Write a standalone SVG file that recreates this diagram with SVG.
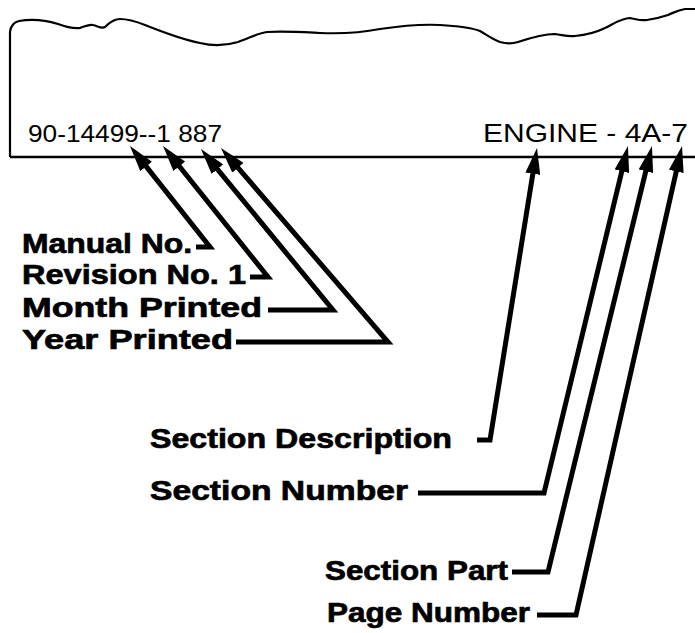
<svg xmlns="http://www.w3.org/2000/svg" width="695" height="633" viewBox="0 0 695 633">
  <defs>
    <marker id="ah" viewBox="0 0 26 15" refX="16" refY="7.5" markerWidth="26" markerHeight="15" markerUnits="userSpaceOnUse" orient="auto-start-reverse">
      <path d="M0,0 L26,7.5 L0,15 Z" fill="#000"/>
    </marker>
    <style>
      .edge { fill: none; stroke: #000; stroke-width: 2.2; stroke-linejoin: round; }
      .conn { fill: none; stroke: #000; stroke-width: 5; stroke-linejoin: miter; marker-start: url(#ah); }
      .lbl { font-family: "Liberation Sans", Arial, sans-serif; font-weight: bold; font-size: 28px; fill: #000; stroke: #000; stroke-width: 0.7; }
      .code { font-family: "Liberation Sans", Arial, sans-serif; font-size: 23px; fill: #000; }
    </style>
  </defs>
  <rect width="695" height="633" fill="#fff"/>

  <g id="page">
    <path class="edge" d="M10,157 L10,32 Q11,23 19,21 C30,19 45,20 58,24 C66,27 72,29 80,28 C86,26 89,24 93,25 C98,26 101,29 105,27 C110,22 114,19 120,19 C128,19 135,21 145,25 C160,31 180,39 200,43 C212,46 225,46 238,42 C250,38 258,33 267,32 C285,31 300,32 320,33 C345,34 360,33 380,29 C400,26 420,24 440,25 C460,26 472,28 480,31 C487,35 492,39 500,42 C507,44 512,44 518,42 C530,38 545,34 555,34 C563,35 568,37 575,36 C585,35 595,33 605,28 C615,23 622,18 630,18 C636,19 640,21 647,20 C655,19 662,17 668,15 C675,12 678,10 685,9 L695,9"/>
    <path class="edge" d="M10,157 L695,157" style="stroke-width:2.6"/>
    <text class="code" x="28" y="142" textLength="194" lengthAdjust="spacingAndGlyphs">90-14499--1 887</text>
    <text class="code" x="483" y="142" textLength="205" lengthAdjust="spacingAndGlyphs" style="font-size:26px">ENGINE - 4A-7</text>
  </g>

  <g id="connectors">
    <path class="conn" d="M136.2,153.9 L210,247 L196,247"/>
    <path class="conn" d="M169.3,153.8 L268,277 L250,277"/>
    <path class="conn" d="M207.3,156.8 L333,310 L268,310"/>
    <path class="conn" d="M227.5,155.6 L388,342 L236,342"/>
    <path class="conn" d="M535.4,157.9 L490,440 L477,440"/>
    <path class="conn" d="M625.6,155.7 L544,493 L418,493"/>
    <path class="conn" d="M649.6,155.7 L548,572 L512,572"/>
    <path class="conn" d="M679.8,155.8 L576,615 L537,615"/>
  </g>

  <g id="label-manual"><text class="lbl" x="22" y="253" textLength="170" lengthAdjust="spacingAndGlyphs">Manual No.</text></g>
  <g id="label-revision"><text class="lbl" x="22" y="284" textLength="224" lengthAdjust="spacingAndGlyphs">Revision No. 1</text></g>
  <g id="label-month"><text class="lbl" x="22" y="317" textLength="240" lengthAdjust="spacingAndGlyphs">Month Printed</text></g>
  <g id="label-year"><text class="lbl" x="22" y="349" textLength="211" lengthAdjust="spacingAndGlyphs">Year Printed</text></g>
  <g id="label-sec-desc"><text class="lbl" x="150" y="448" textLength="302" lengthAdjust="spacingAndGlyphs">Section Description</text></g>
  <g id="label-sec-num"><text class="lbl" x="150" y="500" textLength="258" lengthAdjust="spacingAndGlyphs">Section Number</text></g>
  <g id="label-sec-part"><text class="lbl" x="325" y="580" textLength="183" lengthAdjust="spacingAndGlyphs">Section Part</text></g>
  <g id="label-page"><text class="lbl" x="327" y="622" textLength="203" lengthAdjust="spacingAndGlyphs">Page Number</text></g>
</svg>
